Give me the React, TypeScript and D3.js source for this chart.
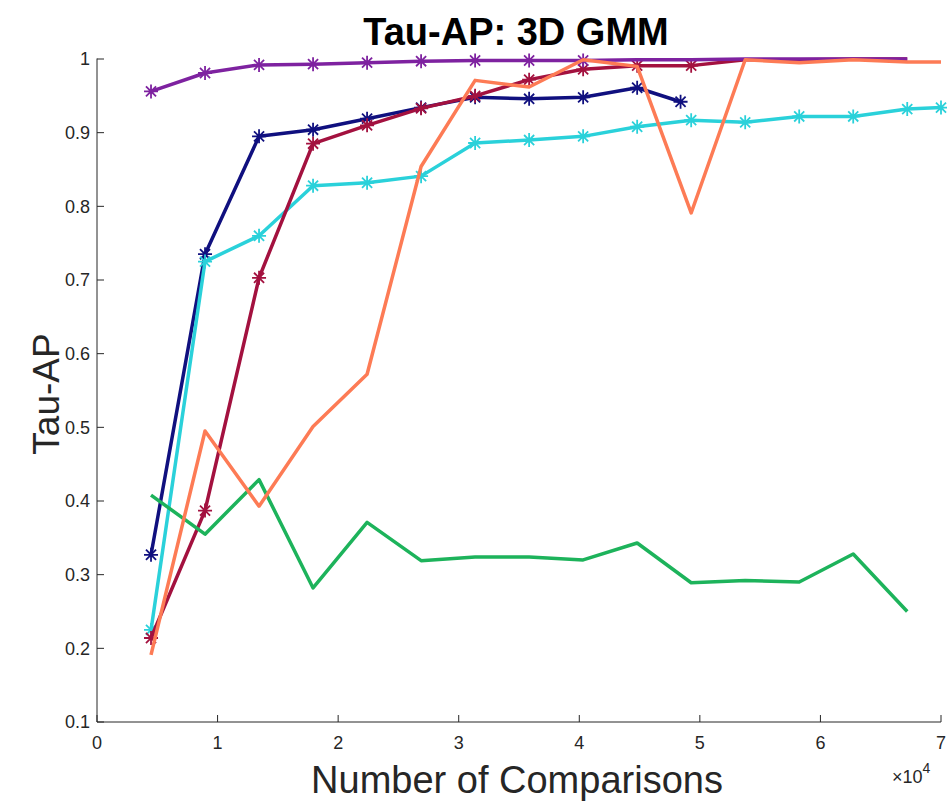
import React from "react";
import * as d3 from "d3";

// chart size / plot box (MATLAB style axes, box off)
const W = 947,
  H = 802;
const margin = { left: 97, right: 6, top: 59, bottom: 80 };

// x positions of the runs (number of comparisons)
const comparisons = [
  4480, 8960, 13440, 17920, 22400, 26880, 31360, 35840, 40320, 44800, 49280,
  53760, 58240, 62720, 67200, 70000
];
const navyX = [...comparisons.slice(0, 10), 48400];

// Tau-AP values
const navyVals = [0.327, 0.735, 0.895, 0.904, 0.919, 0.934, 0.948, 0.946, 0.948, 0.961, 0.942];
const purpleVals = [0.956, 0.981, 0.992, 0.993, 0.995, 0.997, 0.998, 0.998, 0.998, 0.999, 0.999, 1.0, 1.0, 1.0, 1.0];
const crimsonVals = [0.214, 0.387, 0.703, 0.885, 0.91, 0.933, 0.95, 0.972, 0.986, 0.991, 0.991, 0.999, 0.999, 1.0, 1.0];
const cyanVals = [0.225, 0.725, 0.76, 0.828, 0.832, 0.841, 0.886, 0.89, 0.895, 0.908, 0.917, 0.914, 0.922, 0.922, 0.932, 0.934];
const orangeVals = [0.191, 0.495, 0.393, 0.501, 0.572, 0.854, 0.971, 0.962, 0.999, 0.99, 0.791, 0.999, 0.995, 0.999, 0.996, 0.996];
const greenVals = [0.408, 0.355, 0.429, 0.282, 0.371, 0.319, 0.324, 0.324, 0.32, 0.343, 0.289, 0.292, 0.29, 0.328, 0.25];

const xTicks = [0, 10000, 20000, 30000, 40000, 50000, 60000, 70000];
const yTicks = [0.1, 0.2, 0.3, 0.4, 0.5, 0.6, 0.7, 0.8, 0.9, 1];

// drawing order matters (later on top)
const series = [
  { id: "navy", xs: navyX, ys: navyVals, color: "#10107f", markers: 11 },
  { id: "cyan", xs: comparisons, ys: cyanVals, color: "#2ad1da", markers: 16 },
  { id: "crimson", xs: comparisons, ys: crimsonVals, color: "#a3113f", markers: 11 },
  { id: "purple", xs: comparisons, ys: purpleVals, color: "#7e22a0", markers: 9 },
  { id: "green", xs: comparisons, ys: greenVals, color: "#1db35b", markers: 0 },
  { id: "orange", xs: comparisons, ys: orangeVals, color: "#fd7b55", markers: 0 }
];

const FONT = "'Liberation Sans', Arial, Helvetica, sans-serif";
const AXIS = "#262626";

// MATLAB '*' marker
const star = (r: number) => {
  const d = r * 0.72;
  return `M${-r},0L${r},0M0,${-r}L0,${r}M${-d},${-d}L${d},${d}M${-d},${d}L${d},${-d}`;
};

export default function App() {
  const x = d3
    .scaleLinear()
    .domain([0, 70000])
    .range([margin.left, W - margin.right]);
  const y = d3
    .scaleLinear()
    .domain([0.1, 1])
    .range([H - margin.bottom, margin.top]);

  const line = d3
    .line<[number, number]>()
    .x(d => x(d[0]))
    .y(d => y(d[1]));

  const x0 = x(0),
    x1 = x(70000),
    yb = y(0.1),
    yt = y(1);

  return (
    <svg width={W} height={H} style={{ position: "absolute", left: 0, top: 0, background: "#fff" }}>
      {/* title */}
      <text x={516} y={45} textAnchor="middle" fontFamily={FONT} fontWeight="bold" fontSize={38} fill="#000">
        Tau-AP: 3D GMM
      </text>

      {/* axes */}
      <g stroke={AXIS} strokeWidth={1} fill="none">
        <line x1={x0} x2={x0} y1={yt - 0.5} y2={yb} />
        <line x1={x0} x2={x1} y1={yb} y2={yb} />
        {yTicks.map(t => (
          <line key={"yt" + t} x1={x0} x2={x0 + 7} y1={y(t)} y2={y(t)} />
        ))}
        {xTicks.map(t => (
          <line key={"xt" + t} x1={x(t)} x2={x(t)} y1={yb} y2={yb - 7} />
        ))}
      </g>
      <g fontFamily={FONT} fontSize={18} fill={AXIS}>
        {yTicks.map(t => (
          <text key={"yl" + t} x={x0 - 7} y={y(t)} dy="0.35em" textAnchor="end">
            {t === 1 ? "1" : d3.format(".1f")(t)}
          </text>
        ))}
        {xTicks.map(t => (
          <text key={"xl" + t} x={x(t)} y={yb + 27} textAnchor="middle">
            {t / 10000}
          </text>
        ))}
        <text x={892} y={783} fontSize={18}>
          ×10
          <tspan dy={-10} fontSize={14}>
            4
          </tspan>
        </text>
      </g>

      {/* axis labels */}
      <text x={517} y={793} textAnchor="middle" fontFamily={FONT} fontSize={38} fill={AXIS}>
        Number of Comparisons
      </text>
      <text
        transform={`translate(59, 394) rotate(-90)`}
        textAnchor="middle"
        fontFamily={FONT}
        fontSize={37}
        fill={AXIS}
      >
        Tau-AP
      </text>

      {/* series */}
      {series.map(s => {
        const pts = s.ys.map((v, i) => [s.xs[i], v] as [number, number]);
        return (
          <g key={s.id}>
            <path d={line(pts) || ""} fill="none" stroke={s.color} strokeWidth={3.5} strokeLinejoin="round" />
            {pts.slice(0, s.markers).map((p, i) => (
              <path
                key={i}
                d={star(7)}
                transform={`translate(${x(p[0])},${y(p[1])})`}
                stroke={s.color}
                strokeWidth={1.8}
                fill="none"
              />
            ))}
          </g>
        );
      })}
    </svg>
  );
}
